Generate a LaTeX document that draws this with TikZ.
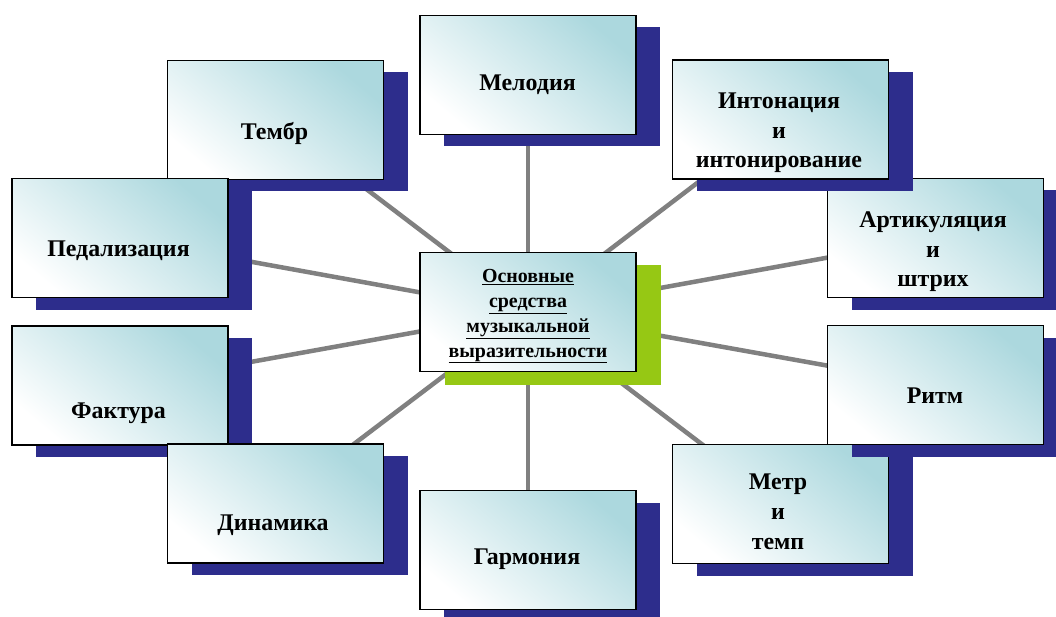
\documentclass[tikz,border=0pt]{standalone}
\usepackage{fontspec}
\setmainfont{Liberation Serif}
\usetikzlibrary{shadows,backgrounds}
\definecolor{shblue}{RGB}{45,45,140}
\definecolor{shgreen}{RGB}{150,200,20}
\definecolor{boxteal}{RGB}{172,216,222}
\definecolor{conngray}{RGB}{128,128,128}
\begin{document}
\begin{tikzpicture}[x=1bp,y=-1bp,
  boxbase/.style={minimum width=216bp, minimum height=119bp, inner sep=0pt,
    draw=black, line width=1.1pt, top color=boxteal, bottom color=white,
    shading angle=-40},
  box/.style={boxbase, drop shadow={shadow xshift=24bp, shadow yshift=-12bp,
    fill=shblue, opacity=1, draw=none}},
  centerbox/.style={boxbase, drop shadow={shadow xshift=25bp, shadow yshift=-13bp,
    fill=shgreen, opacity=1, draw=none}},
  lbl/.style={anchor=base, inner sep=0pt, align=center,
    font=\fontsize{24}{30}\selectfont\bfseries},
  clbl/.style={anchor=base, inner sep=0pt, align=center,
    font=\fontsize{20}{25}\selectfont\bfseries},
  conn/.style={draw=conngray, line width=4.5bp}
]
\useasboundingbox (0,0) rectangle (1056,617);

% boxes in stacking order
\node[box] (mel) at (528,75) {};
\node[box] (tembr) at (275.5,120) {};
\node[box] (pedal) at (120,238) {};
\node[box] (faktura) at (120,385.5) {};
\node[box] (dinam) at (275.5,503.5) {};
\node[box] (garm) at (528,550) {};
\node[box] (metr) at (780.5,504) {};
\node[box] (ritm) at (935.5,385) {};
\node[box] (artic) at (935.5,238) {};
\node[box] (inton) at (780.5,119.5) {};
\node[centerbox] (core) at (528,312) {};

% white page and connectors behind everything
\begin{pgfonlayer}{background}
\fill[white] (0,0) rectangle (1056,617);
\foreach \b in {mel,tembr,pedal,faktura,dinam,garm,metr,ritm,artic,inton}
  \draw[conn] (core.center) -- (\b.center);
\end{pgfonlayer}

% labels
\node[lbl] (tmel) at (527.5,91) {Мелодия};
\node[lbl] (ttembr) at (274.5,140) {Тембр};
\node[lbl] (tpedal) at (118.5,257) {Педализация};
\node[lbl] (tfaktura) at (118.5,418) {Фактура};
\node[lbl] (tdinam) at (273,530) {Динамика};
\node[lbl] (tgarm) at (527,564) {Гармония};
\node[lbl] (tritm) at (935,403) {Ритм};
\node[lbl] (tinton) at (779,168) {Интонация\\и\\интонирование};
\node[lbl] (tartic) at (933,287) {Артикуляция\\и\\штрих};
\node[lbl] (tmetr) at (778,549) {Метр\\и\\темп};
\node[clbl] (tcore) at (528,357) {\underline{Основные}\\\underline{средства}\\\underline{музыкальной}\\\underline{выразительности}};
\end{tikzpicture}
\end{document}
